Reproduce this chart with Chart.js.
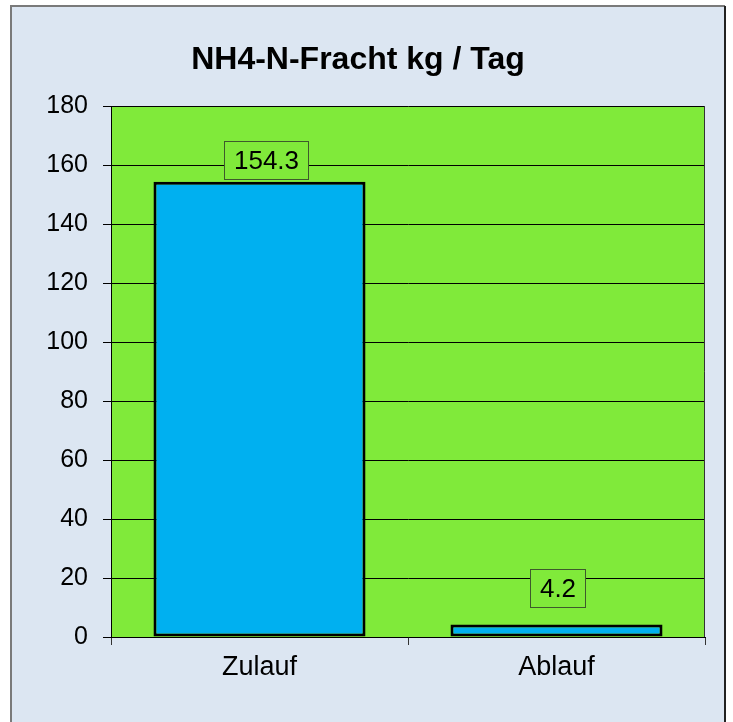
<!DOCTYPE html>
<html><head><meta charset="utf-8">
<script src="https://cdn.jsdelivr.net/npm/chart.js@4.4.1/dist/chart.umd.min.js"></script>
<style>html,body{margin:0;padding:0;background:#fff;}canvas{display:block;}</style>
</head><body>
<canvas id="c" width="733" height="722"></canvas>
<script>
const chartTitle = 'NH4-N-Fracht kg / Tag';
const categories = ['Zulauf', 'Ablauf'];
const loadValues = [154.3, 4.2];
const yMin = 0;
const yMax = 180;
const yStep = 20;

const FONT = '"Liberation Sans", Arial, Helvetica, sans-serif';
const PLOT_GREEN = '#80ea3a';

const framePlugin = {
  id: 'frame',
  beforeDraw(chart) {
    const ctx = chart.ctx;
    const a = chart.chartArea;
    ctx.save();
    ctx.fillStyle = '#ffffff';
    ctx.fillRect(0, 0, chart.width, chart.height);
    ctx.fillStyle = '#dce6f2';
    ctx.fillRect(11, 6, 714, chart.height);
    ctx.lineWidth = 2;
    ctx.strokeStyle = '#7a7a7a';
    ctx.beginPath();
    ctx.moveTo(11, chart.height); ctx.lineTo(11, 6); ctx.lineTo(725, 6);
    ctx.stroke();
    ctx.strokeStyle = '#222222';
    ctx.beginPath();
    ctx.moveTo(725, 6); ctx.lineTo(725, chart.height);
    ctx.stroke();
    ctx.fillStyle = PLOT_GREEN;
    ctx.fillRect(a.left, a.top, a.right - a.left, a.bottom - a.top);
    ctx.restore();
  },
  afterDraw(chart) {
    const ctx = chart.ctx;
    const a = chart.chartArea;
    ctx.save();
    ctx.strokeStyle = '#333';
    ctx.lineWidth = 1;
    ctx.beginPath();
    ctx.moveTo(Math.round(a.right) - 0.5, a.top);
    ctx.lineTo(Math.round(a.right) - 0.5, a.bottom);
    ctx.stroke();
    ctx.restore();
  }
};

const valueLabelPlugin = {
  id: 'valueLabels',
  afterDatasetsDraw(chart, args, opts) {
    const meta = chart.getDatasetMeta(0);
    const ctx = chart.ctx;
    ctx.save();
    ctx.font = '26px ' + FONT;
    meta.data.forEach((bar, i) => {
      const txt = chart.data.datasets[0].data[i].toFixed(1);
      const w = Math.round(ctx.measureText(txt).width + 20);
      const h = 39;
      const n = opts.nudges[i] || {dx: 0, dy: 0};
      const cx = bar.x + n.dx;
      const bottom = Math.round(bar.y - n.dy);
      const left = Math.round(cx - w / 2);
      ctx.fillStyle = PLOT_GREEN;
      ctx.fillRect(left, bottom - h, w, h);
      ctx.strokeStyle = '#3e5a2c';
      ctx.lineWidth = 1;
      ctx.strokeRect(left + 0.5, bottom - h + 0.5, w - 1, h - 1);
      ctx.fillStyle = '#000';
      ctx.textAlign = 'center';
      ctx.textBaseline = 'middle';
      ctx.fillText(txt, left + w / 2, bottom - h / 2 + 1);
    });
    ctx.restore();
  }
};

new Chart(document.getElementById('c'), {
  type: 'bar',
  data: {
    labels: categories,
    datasets: [{
      data: loadValues,
      backgroundColor: '#00b0f0',
      borderColor: '#000000',
      borderWidth: 3,
      borderSkipped: false,
      barPercentage: 0.714,
      categoryPercentage: 1.0
    }]
  },
  options: {
    responsive: false,
    animation: false,
    devicePixelRatio: 1,
    layout: { padding: { left: 11, right: 28, top: 0, bottom: 0 } },
    plugins: {
      legend: { display: false },
      tooltip: { enabled: false },
      title: {
        display: true,
        text: chartTitle,
        color: '#000',
        font: { family: FONT, size: 32, weight: 'bold', lineHeight: 1.2 },
        padding: { top: 41, bottom: 26.6 }
      },
      valueLabels: { nudges: [{dx: 7, dy: 2}, {dx: 1, dy: 17}] }
    },
    scales: {
      x: {
        type: 'category',
        offset: true,
        grid: { display: true, drawOnChartArea: false, drawTicks: true, tickLength: 8, color: '#333', offset: true },
        border: { display: true, color: '#000', width: 1 },
        ticks: { color: '#000', font: { family: FONT, size: 27 }, padding: 6, maxRotation: 0 },
        afterFit(scale) { scale.height = 85; }
      },
      y: {
        min: yMin,
        max: yMax,
        grid: { color: '#000', lineWidth: 1, drawTicks: true, tickLength: 8 },
        border: { display: true, color: '#000', width: 1 },
        ticks: { stepSize: yStep, color: '#000', font: { family: FONT, size: 25 }, padding: 15 },
        afterFit(scale) { scale.width = 100; }
      }
    }
  },
  plugins: [framePlugin, valueLabelPlugin]
});
</script>
</body></html>
